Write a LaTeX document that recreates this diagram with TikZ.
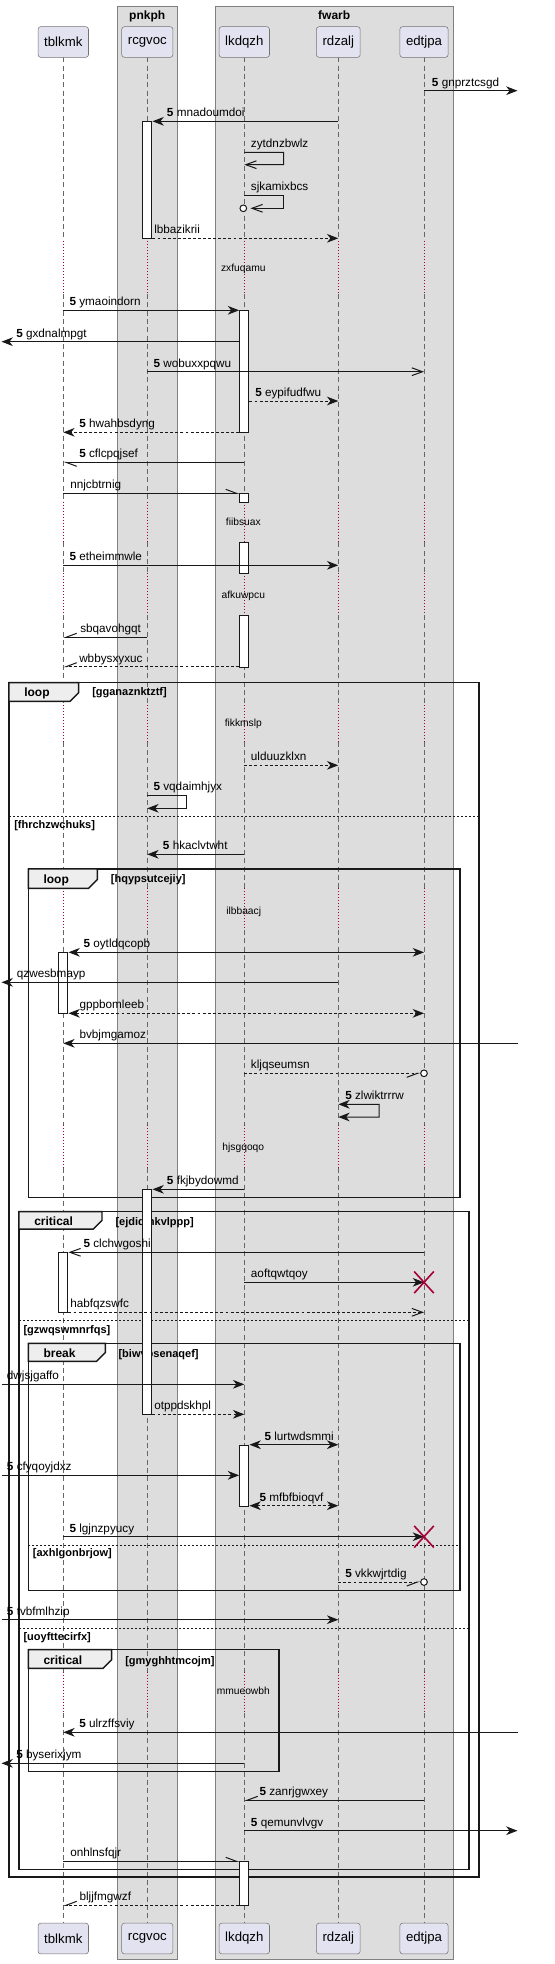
\documentclass[tikz,border=0pt]{standalone}
\usepackage{fontspec}
\setmainfont{Liberation Sans}
\usetikzlibrary{arrows.meta, positioning, calc, shapes.misc}

\definecolor{partfill}{HTML}{E2E2F0}
\definecolor{boxfill}{HTML}{DDDDDD}
\definecolor{tabfill}{HTML}{EEEEEE}
\definecolor{linecol}{HTML}{181818}
\definecolor{pausecol}{HTML}{A80036}

\tikzset{
  part/.style={draw=black!55, fill=partfill, rounded corners=2pt, minimum height=23pt,
    inner xsep=4.6pt, font=\fontsize{9.9}{11}\selectfont},
  grp/.style={draw=black!50, fill=boxfill, line width=0.75pt},
  grptitle/.style={anchor=base, inner sep=0pt, font=\bfseries\fontsize{9}{10}\selectfont},
  life/.style={draw=black!60, line width=0.6pt, dash pattern=on 3.75pt off 2.5pt},
  gapline/.style={draw=pausecol, line width=0.6pt, dash pattern=on 0.75pt off 1.5pt},
  dly/.style={anchor=base, inner sep=0pt, font=\fontsize{7.7}{9}\selectfont},
  frm/.style={draw=black!90, line width=1.1pt},
  tab/.style={draw=black!90, fill=tabfill, line width=1.1pt},
  kw/.style={anchor=base west, inner sep=0pt, font=\bfseries\fontsize{9}{10}\selectfont},
  cond/.style={anchor=base west, inner sep=0pt, font=\bfseries\fontsize{8.25}{9}\selectfont},
  sep/.style={draw=black!90, line width=0.75pt, dash pattern=on 1.5pt off 1.5pt},
  act/.style={draw=linecol, fill=white, line width=0.75pt, minimum width=7pt, inner sep=0pt, anchor=north},
  msg/.style={draw=linecol, line width=0.75pt},
  dmsg/.style={msg, dash pattern=on 2.2pt off 1.6pt},
  arr/.style={-{Stealth[length=8.5pt, width=6.5pt, inset=2.6pt]}},
  barr/.style={{Stealth[length=8.5pt, width=6.5pt, inset=2.6pt]}-{Stealth[length=8.5pt, width=6.5pt, inset=2.6pt]}},
  oarr/.style={-{Straight Barb[length=8pt, width=5.8pt]}},
  harr/.style={-{Straight Barb[length=8pt, width=6pt, harpoon]}},
  harrs/.style={-{Straight Barb[length=8pt, width=6pt, harpoon, swap]}},
  endo/.style={circle, draw=linecol, line width=0.75pt, fill=white, minimum size=5pt, inner sep=0pt},
  kill/.style={cross out, draw=pausecol, line width=1.2pt, minimum width=13.5pt, minimum height=15pt, inner sep=0pt},
  lbl/.style={anchor=base west, inner sep=0pt, font=\fontsize{8.8}{10}\selectfont}
}

\begin{document}
\begin{tikzpicture}[x=0.75pt, y=-0.75pt]
\useasboundingbox (0,0) rectangle (555,1964);

% boxes
\draw[grp] (117,6) rectangle (177.3,1959.3);
\draw[grp] (215,6) rectangle (453.3,1959.3);
\node[grptitle] (pnkph) at (147.2,19.3) {pnkph};
\node[grptitle] (fwarb) at (334.2,19.3) {fwarb};

\coordinate (lft) at (1.5,0);
\coordinate (rgt) at (517.5,0);

% lifelines
\foreach \x in {63.3,147.3,244.3,338.3,424}{
  \foreach \ya/\yb in {57.3/241,294/501.7,542.3/573.3,615/705,741.7/888.3,930/1125,1168/1671.7,1713.3/1922.7}
    \draw[life] (\x,\ya) -- (\x,\yb);
  \foreach \ya/\yb in {241/294,501.7/542.3,573.3/615,705/741.7,888.3/930,1125/1168,1671.7/1713.3}
    \draw[gapline] (\x,\ya) -- (\x,\yb);
}

% participants
\node[part] (tblkmk) at (63.3,42) {tblkmk};
\node[part] (rcgvoc) at (147.3,42) {rcgvoc};
\node[part] (lkdqzh) at (244.3,42) {lkdqzh};
\node[part] (rdzalj) at (338.3,42) {rdzalj};
\node[part] (edtjpa) at (424,42) {edtjpa};
\node[part] (tblkmkB) at (63.3,1938.5) {tblkmk};
\node[part] (rcgvocB) at (147.3,1938.5) {rcgvoc};
\node[part] (lkdqzhB) at (244.3,1938.5) {lkdqzh};
\node[part] (rdzaljB) at (338.3,1938.5) {rdzalj};
\node[part] (edtjpaB) at (424,1938.5) {edtjpa};

% loop gganaznktztf
\draw[frm] (9,682.7) rectangle (479,1877);
\draw[tab] (9,682.7) -- (78.7,682.7) -- (78.7,692.6) -- (70,701.3) -- (9,701.3) -- cycle;
\node[kw] (loopA) at (24,696.7) {loop};
\node[cond] (condA) at (92,695.7) {[gganaznktztf]};
\draw[sep] (9,816.7) -- (479,816.7);
\node[cond] (condB) at (14,828.5) {[fhrchzwchuks]};

% loop hqypsutcejiy
\draw[frm] (28.3,869) rectangle (460,1197.3);
\draw[tab] (28.3,869) -- (97.3,869) -- (97.3,879.6) -- (88.6,888.3) -- (28.3,888.3) -- cycle;
\node[kw] (loopB) at (43.3,883.3) {loop};
\node[cond] (condC) at (110.7,882.5) {[hqypsutcejiy]};

% critical ejdidmkvlppp
\draw[frm] (19,1211.7) rectangle (469,1869.3);
\draw[tab] (19,1211.7) -- (102,1211.7) -- (102,1220.3) -- (93.3,1229) -- (19,1229) -- cycle;
\node[kw] (critA) at (34,1225.7) {critical};
\node[cond] (condD) at (115.3,1225) {[ejdidmkvlppp]};
\draw[sep] (19,1320.7) -- (469,1320.7);
\node[cond] (condE) at (23.3,1333) {[gzwqswmnrfqs]};
\draw[sep] (19,1628.3) -- (469,1628.3);
\node[cond] (condF) at (23.3,1640.5) {[uoyfttecirfx]};

% break biwvpsenaqef
\draw[frm] (28.3,1343.3) rectangle (460,1590.7);
\draw[tab] (28.3,1343.3) -- (105.3,1343.3) -- (105.3,1352.6) -- (96.6,1361.3) -- (28.3,1361.3) -- cycle;
\node[kw] (brk) at (43.3,1357.3) {break};
\node[cond] (condG) at (118.3,1357) {[biwvpsenaqef]};
\draw[sep] (28.3,1545.3) -- (460,1545.3);
\node[cond] (condH) at (32.7,1556.5) {[axhlgonbrjow]};

% critical gmyghhtmcojm
\draw[frm] (28.3,1649.7) rectangle (279,1771.3);
\draw[tab] (28.3,1649.7) -- (111.7,1649.7) -- (111.7,1659.6) -- (103,1668.3) -- (28.3,1668.3) -- cycle;
\node[kw] (critB) at (43.3,1664.7) {critical};
\node[cond] (condI) at (125,1664.3) {[gmyghhtmcojm]};

% delays
\node[dly] (d1) at (243.3,271.7) {zxfuqamu};
\node[dly] (d2) at (243.3,525.7) {fiibsuax};
\node[dly] (d3) at (243.3,598.4) {afkuwpcu};
\node[dly] (d4) at (243.3,726.7) {fikkmslp};
\node[dly] (d5) at (243.7,914.1) {ilbbaacj};
\node[dly] (d6) at (243.3,1150.4) {hjsgqoqo};
\node[dly] (d7) at (243.3,1694.1) {mmueowbh};

% messages
\draw[msg, arr] (edtjpa |- 0,90.7) -- (rgt |- 0,90.7);
\node[lbl] (m1) at (431.7,86) {\textbf{5} gnprztcsgd};

\node[act, minimum height=87.75pt] (a1) at (rcgvoc |- 0,121.3) {};
\draw[msg, arr] (rdzalj |- 0,121.3) -- (a1.east |- 0,121.3);
\node[lbl] (m2) at (166.7,116.6) {\textbf{5} mnadoumdoi};

\draw[msg, oarr] (lkdqzh |- 0,152.3) -- ++(39.4,0) -- ++(0,12.4) -- (lkdqzh |- 0,164.7);
\node[lbl] (m3) at (250.7,147.4) {zytdnzbwlz};

\node[endo] (o1) at (243.3,208.3) {};
\draw[msg, oarr, shorten >=2.5pt] (lkdqzh |- 0,195.7) -- ++(39.4,0) |- (o1.east);
\node[lbl] (m4) at (250.7,190.7) {sjkamixbcs};

\draw[dmsg, arr] (a1.east |- 0,238.3) -- (rdzalj |- 0,238.3);
\node[lbl] (m5) at (154,233.6) {lbbazikrii};

\node[act, minimum height=91.5pt] (a2) at (lkdqzh |- 0,310.3) {};
\draw[msg, arr] (tblkmk |- 0,310.3) -- (a2.west |- 0,310.3);
\node[lbl] (m6) at (69.3,305.6) {\textbf{5} ymaoindorn};
\draw[msg, arr] (a2.west |- 0,341.7) -- (lft |- 0,341.7);
\node[lbl] (m7) at (16,337) {\textbf{5} gxdnalmpgt};
\draw[msg, oarr] (rcgvoc |- 0,371.7) -- (edtjpa |- 0,371.7);
\node[lbl] (m8) at (153.3,367) {\textbf{5} wobuxxpqwu};
\draw[dmsg, arr] (a2.east |- 0,401) -- (rdzalj |- 0,401);
\node[lbl] (m9) at (255,396.3) {\textbf{5} eypifudfwu};
\draw[dmsg, arr] (a2.west |- 0,432.3) -- (tblkmk |- 0,432.3);
\node[lbl] (m10) at (79,427.6) {\textbf{5} hwahbsdyng};
\draw[msg, harr] (lkdqzh |- 0,462.3) -- (tblkmk |- 0,462.3);
\node[lbl] (m11) at (79,457.6) {\textbf{5} cflcpqjsef};

\node[act, minimum height=6.3pt] (a3) at (lkdqzh |- 0,493.3) {};
\node[act, minimum height=23.25pt] (a3b) at (lkdqzh |- 0,542.3) {};
\node[act, minimum height=38.8pt] (a3c) at (lkdqzh |- 0,615) {};
\draw[msg, harr] (tblkmk |- 0,493.3) -- (a3.west |- 0,493.3);
\node[lbl] (m12) at (70,488.6) {nnjcbtrnig};
\draw[msg, arr] (tblkmk |- 0,565.3) -- (rdzalj |- 0,565.3);
\node[lbl] (m13) at (69.3,560.6) {\textbf{5} etheimmwle};
\draw[msg, harrs] (rcgvoc |- 0,637.3) -- (tblkmk |- 0,637.3);
\node[lbl] (m14) at (80,632.6) {sbqavohgqt};
\draw[dmsg, harrs] (a3c.west |- 0,666.7) -- (tblkmk |- 0,666.7);
\node[lbl] (m15) at (79,662) {wbbysxyxuc};

\draw[dmsg, arr] (lkdqzh |- 0,765.3) -- (rdzalj |- 0,765.3);
\node[lbl] (m16) at (250.7,760.6) {ulduuzklxn};
\draw[msg, arr] (rcgvoc |- 0,795.3) -- ++(39.4,0) -- ++(0,13) -- (rcgvoc |- 0,808.3);
\node[lbl] (m17) at (153.3,790.5) {\textbf{5} vqdaimhjyx};
\draw[msg, arr] (lkdqzh |- 0,854.3) -- (rcgvoc |- 0,854.3);
\node[lbl] (m18) at (162.7,849.6) {\textbf{5} hkaclvtwht};

\node[act, minimum height=45.75pt] (a4) at (tblkmk |- 0,952.3) {};
\draw[msg, barr] (a4.east |- 0,952.3) -- (edtjpa |- 0,952.3);
\node[lbl] (m19) at (83.3,947.6) {\textbf{5} oytldqcopb};
\draw[msg, arr] (rdzalj |- 0,982.3) -- (lft |- 0,982.3);
\node[lbl] (m20) at (16.7,977.6) {qzwesbmayp};
\draw[dmsg, barr] (a4.east |- 0,1013.3) -- (edtjpa |- 0,1013.3);
\node[lbl] (m21) at (79.3,1008.6) {gppbomleeb};
\draw[msg, arr] (rgt |- 0,1043.3) -- (tblkmk |- 0,1043.3);
\node[lbl] (m22) at (79.3,1038.6) {bvbjmgamoz};
\node[endo] (o2) at (edtjpa |- 0,1073.3) {};
\draw[dmsg, harrs] (lkdqzh |- 0,1073.3) -- (o2.west);
\node[lbl] (m23) at (250.7,1068.6) {kljqseumsn};
\draw[msg, barr] (rdzalj |- 0,1104.3) -- ++(40.7,0) -- ++(0,12.7) -- (rdzalj |- 0,1117);
\node[lbl] (m24) at (345,1099.3) {\textbf{5} zlwiktrrrw};

\node[act, minimum height=168.75pt] (a5) at (rcgvoc |- 0,1189.3) {};
\draw[msg, arr] (lkdqzh |- 0,1189.3) -- (a5.east |- 0,1189.3);
\node[lbl] (m25) at (166.7,1184.6) {\textbf{5} fkjbydowmd};

\node[act, minimum height=45pt] (a6) at (tblkmk |- 0,1252.3) {};
\draw[msg, oarr] (edtjpa |- 0,1252.3) -- (a6.east |- 0,1252.3);
\node[lbl] (m26) at (83.3,1247.6) {\textbf{5} clchwgoshi};
\draw[msg, arr] (lkdqzh |- 0,1282.3) -- (edtjpa |- 0,1282.3);
\node[kill] (x1) at (edtjpa |- 0,1282.3) {};
\node[lbl] (m27) at (250.7,1277.6) {aoftqwtqoy};
\draw[dmsg, oarr] (a6.east |- 0,1312.3) -- (edtjpa |- 0,1312.3);
\node[lbl] (m28) at (70,1307.6) {habfqzswfc};

\draw[msg, arr] (lft |- 0,1384.3) -- (lkdqzh |- 0,1384.3);
\node[lbl] (m29) at (6.7,1379.6) {dwjsjgaffo};
\draw[dmsg, arr] (a5.east |- 0,1414.3) -- (lkdqzh |- 0,1414.3);
\node[lbl] (m30) at (154,1409.6) {otppdskhpl};

\node[act, minimum height=45.75pt] (a7) at (lkdqzh |- 0,1444.7) {};
\draw[msg, barr] (a7.east |- 0,1444.7) -- (rdzalj |- 0,1444.7);
\node[lbl] (m31) at (264.3,1440) {\textbf{5} lurtwdsmmi};
\draw[msg, arr] (lft |- 0,1475.3) -- (a7.west |- 0,1475.3);
\node[lbl] (m32) at (6.7,1470.6) {\textbf{5} cfyqoyjdxz};
\draw[dmsg, barr] (a7.east |- 0,1505.7) -- (rdzalj |- 0,1505.7);
\node[lbl] (m33) at (259.3,1501) {\textbf{5} mfbfbioqvf};
\draw[msg, arr] (tblkmk |- 0,1536.7) -- (edtjpa |- 0,1536.7);
\node[kill] (x2) at (edtjpa |- 0,1536.7) {};
\node[lbl] (m34) at (69.3,1532) {\textbf{5} lgjnzpyucy};
\node[endo] (o3) at (edtjpa |- 0,1582) {};
\draw[dmsg, harrs] (rdzalj |- 0,1582) -- (o3.west);
\node[lbl] (m35) at (345,1577.3) {\textbf{5} vkkwjrtdig};
\draw[msg, arr] (lft |- 0,1619.7) -- (rdzalj |- 0,1619.7);
\node[lbl] (m36) at (6.7,1615) {\textbf{5} tvbfmlhzip};

\draw[msg, arr] (rgt |- 0,1732.3) -- (tblkmk |- 0,1732.3);
\node[lbl] (m37) at (79,1727.6) {\textbf{5} ulrzffsviy};
\draw[msg, arr] (lkdqzh |- 0,1763.3) -- (lft |- 0,1763.3);
\node[lbl] (m38) at (16,1758.6) {\textbf{5} byserixjym};
\draw[msg, harrs] (edtjpa |- 0,1800.3) -- (lkdqzh |- 0,1800.3);
\node[lbl] (m39) at (259.3,1795.6) {\textbf{5} zanrjgwxey};
\draw[msg, arr] (lkdqzh |- 0,1830.7) -- (rgt |- 0,1830.7);
\node[lbl] (m40) at (250.7,1826) {\textbf{5} qemunvlvgv};

\node[act, minimum height=33pt] (a8) at (lkdqzh |- 0,1861.3) {};
\draw[msg, harr] (tblkmk |- 0,1861.3) -- (a8.west |- 0,1861.3);
\node[lbl] (m41) at (70,1856.6) {onhlnsfqjr};
\draw[dmsg, harrs] (a8.west |- 0,1905.3) -- (tblkmk |- 0,1905.3);
\node[lbl] (m42) at (79.3,1900.6) {bljjfmgwzf};
\end{tikzpicture}
\end{document}
